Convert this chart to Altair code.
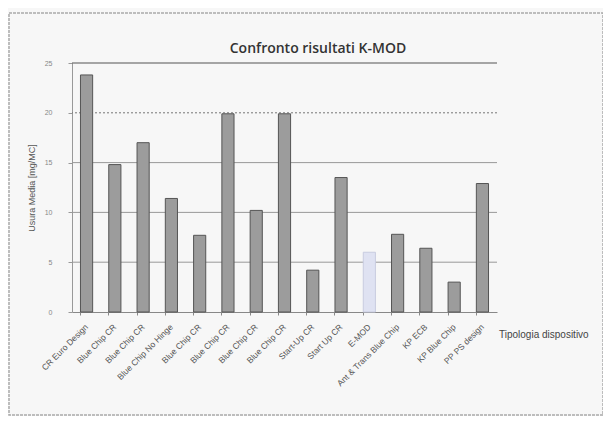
import json
import altair as alt
import pandas as pd

categories = ["CR Euro Design", "Blue Chip CR", "Blue Chip CR", "Blue Chip No Hinge",
              "Blue Chip CR", "Blue Chip CR", "Blue Chip CR", "Blue Chip CR",
              "Start-Up CR", "Start Up CR", "E-MOD", "Ant & Trans Blue Chip",
              "KP ECB", "KP Blue Chip", "PP PS design"]
values = [23.8, 14.8, 17.0, 11.4, 7.7, 19.9, 10.2, 19.9, 4.2, 13.5, 6.0, 7.8, 6.4, 3.0, 12.9]
y_ticks = [0, 5, 10, 15, 20, 25]
highlight = "E-MOD"

df = pd.DataFrame({"idx": list(range(len(categories))), "cat": categories, "val": values})
label_expr = json.dumps(categories) + "[datum.value]"

W, H = 425, 249
FONT = "Liberation Sans"

x = alt.X("idx:O", title=None,
          scale=alt.Scale(paddingInner=0.57, paddingOuter=0.3),
          axis=alt.Axis(labelExpr=label_expr, labelAngle=-45, labelAlign="right",
                        labelBaseline="middle", labelFontSize=8.5, labelColor="#555",
                        labelFont=FONT, labelPadding=10, tickSize=3, tickColor="#888",
                        domainColor="#888", bandPosition=0, labelOverlap=False))
y = alt.Y("val:Q", title="Usura Media [mg/MC]",
          scale=alt.Scale(domain=[0, 25], nice=False),
          axis=alt.Axis(values=y_ticks, grid=False, labelFontSize=7, labelColor="#888",
                        labelFont=FONT, tickSize=4, tickColor="#999", domainColor="#999",
                        labelPadding=16, titleFont=FONT, titleFontSize=9,
                        titleColor="#555", titleFontWeight="normal", titlePadding=8))

grid_solid = alt.Chart(pd.DataFrame({"g": [5, 10, 15]})).mark_rule(
    color="#999", strokeWidth=1).encode(y=alt.Y("g:Q", scale=alt.Scale(domain=[0, 25])))
grid_dot = alt.Chart(pd.DataFrame({"g": [20]})).mark_rule(
    color="#777", strokeWidth=1, strokeDash=[2, 2]).encode(y=alt.Y("g:Q"))
grid_top = alt.Chart(pd.DataFrame({"g": [25]})).mark_rule(
    color="#555", strokeWidth=1.2).encode(y=alt.Y("g:Q"))

bars = alt.Chart(df).mark_bar(strokeWidth=1).encode(
    x=x, y=y,
    color=alt.condition(alt.datum.cat == highlight, alt.value("#dfe2f2"), alt.value("#9c9c9c")),
    stroke=alt.condition(alt.datum.cat == highlight, alt.value("#c8cce0"), alt.value("#555555")),
)

title = alt.Chart(pd.DataFrame({"t": ["Confronto risultati K-MOD"]})).mark_text(
    font="Open Sans", fontSize=14, fontWeight=600, color="#333", align="center",
    baseline="middle").encode(text="t:N", x=alt.value(246), y=alt.value(-14))

xtitle = alt.Chart(pd.DataFrame({"t": ["Tipologia dispositivo"]})).mark_text(
    font=FONT, fontSize=10, color="#444", align="left", baseline="middle").encode(
    text="t:N", x=alt.value(427), y=alt.value(272))

frame = alt.Chart(pd.DataFrame({"f": [0]})).mark_rect(
    fill=None, stroke="#aaa", strokeWidth=1.5, strokeDash=[3, 1]).encode(
    x=alt.value(-63), x2=alt.value(531), y=alt.value(-50), y2=alt.value(352))

chart = alt.layer(frame, grid_solid, grid_dot, grid_top, bars, title, xtitle).properties(
    width=W, height=H,
    autosize=alt.AutoSizeParams(type="none"),
    padding={"left": 64, "top": 55, "right": 106, "bottom": 104},
    background="#f7f7f7",
).configure_view(stroke=None)

chart.save("out.html", embed_options={"renderer": "svg", "actions": False})
